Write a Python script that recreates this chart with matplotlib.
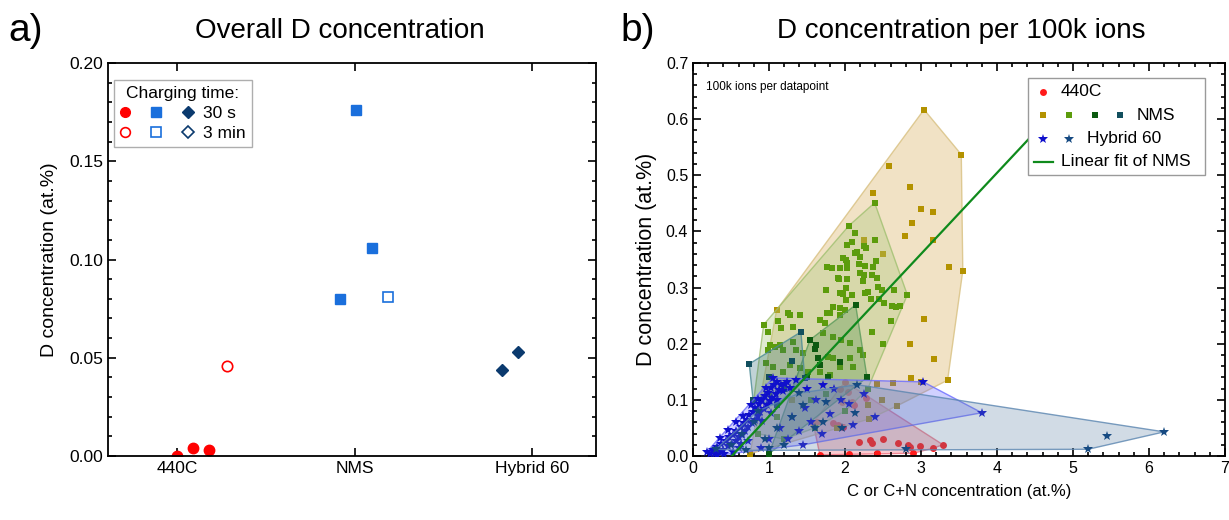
import numpy as np
import matplotlib
matplotlib.use("Agg")
import matplotlib.pyplot as plt
from matplotlib.lines import Line2D
from matplotlib.patches import Rectangle
from matplotlib.legend_handler import HandlerTuple
from matplotlib.ticker import MultipleLocator, FormatStrFormatter
from matplotlib.colors import to_rgba

plt.rcParams['font.family'] = ['Liberation Sans', 'DejaVu Sans']

# ---------------- panel a data ----------------
categories   = ['440C', 'NMS', 'Hybrid 60']
c440_30s_x   = [0.00, 0.09, 0.18]
c440_30s_y   = [0.000, 0.004, 0.003]
c440_3min_x  = [0.28]
c440_3min_y  = [0.046]
nms_30s_x    = [0.915, 1.005, 1.10]
nms_30s_y    = [0.080, 0.176, 0.106]
nms_3min_x   = [1.19]
nms_3min_y   = [0.081]
hyb_30s_x    = [1.83, 1.92]
hyb_30s_y    = [0.044, 0.053]

# ---------------- panel b data (x = C or C+N at.%, y = D at.%) ----------------
c440_pts = [(2.0, 0.132), (2.04, 0.114), (2.09, 0.096), (1.96, 0.096), (1.63, 0.06),
            (1.84, 0.058), (1.91, 0.055), (1.97, 0.052), (2.18, 0.025), (2.33, 0.028),
            (2.36, 0.023), (2.7, 0.023), (2.83, 0.02), (2.86, 0.016), (2.99, 0.018),
            (3.16, 0.014), (3.29, 0.02), (1.93, 0.12), (2.28, 0.103), (1.58, 0.059),
            (1.67, 0.002), (2.05, 0.004), (2.42, 0.005), (2.9, 0.005), (2.12, 0.09),
            (2.5, 0.03)]

nms_gold_pts = [(3.04, 0.617), (3.53, 0.537), (2.58, 0.517), (2.37, 0.469), (2.86, 0.48),
                (3.0, 0.44), (3.16, 0.435), (2.88, 0.415), (2.79, 0.392), (3.16, 0.385),
                (3.37, 0.337), (3.55, 0.33), (3.04, 0.244), (2.86, 0.2), (3.17, 0.173),
                (2.87, 0.139), (3.35, 0.135), (3.0, 0.132), (2.63, 0.13), (2.42, 0.128),
                (2.49, 0.1), (2.3, 0.091), (2.68, 0.089), (2.32, 0.066), (2.25, 0.385),
                (2.5, 0.36), (1.1, 0.26), (0.75, 0.004), (1.3, 0.1), (1.9, 0.05)]

nms_lime_pts = [(2.39, 0.451), (2.05, 0.41), (2.13, 0.398), (2.09, 0.381), (2.03, 0.376),
                (2.25, 0.374), (2.28, 0.371), (2.39, 0.385), (2.16, 0.364), (2.13, 0.362),
                (2.2, 0.355), (1.97, 0.353), (2.01, 0.349), (2.03, 0.344), (1.76, 0.337),
                (1.83, 0.335), (1.93, 0.335), (2.03, 0.335), (2.18, 0.342), (2.26, 0.339),
                (2.41, 0.348), (2.37, 0.337), (2.2, 0.326), (2.25, 0.323), (2.36, 0.323),
                (2.42, 0.317), (1.92, 0.316), (2.03, 0.316), (2.24, 0.312), (2.43, 0.301),
                (2.49, 0.296), (1.75, 0.296), (2.01, 0.3), (1.93, 0.29), (1.97, 0.289),
                (2.09, 0.287), (2.01, 0.278), (2.26, 0.29), (2.3, 0.292), (2.34, 0.28),
                (2.45, 0.28), (2.51, 0.273), (2.64, 0.296), (2.82, 0.287), (2.62, 0.267),
                (2.67, 0.266), (2.72, 0.267), (1.84, 0.266), (1.93, 0.264), (0.93, 0.234),
                (1.12, 0.241), (1.28, 0.251), (1.41, 0.251), (1.32, 0.23), (1.16, 0.228),
                (1.01, 0.198), (1.08, 0.194), (1.14, 0.198), (1.18, 0.189), (0.99, 0.189),
                (1.67, 0.242), (1.74, 0.237), (1.8, 0.255), (1.93, 0.251), (2.0, 0.26),
                (1.71, 0.219), (1.84, 0.212), (1.95, 0.207), (2.07, 0.201), (1.78, 0.176),
                (1.84, 0.175), (1.93, 0.159), (2.07, 0.175), (2.11, 0.159), (2.2, 0.189),
                (2.24, 0.18), (1.32, 0.203), (1.36, 0.189), (1.45, 0.184), (0.96, 0.166),
                (1.05, 0.159), (1.28, 0.162), (1.18, 0.15), (1.41, 0.157), (1.51, 0.15),
                (1.67, 0.15), (1.8, 0.144), (2.5, 0.2), (2.35, 0.22), (2.6, 0.24),
                (2.3, 0.12), (0.8, 0.1), (0.85, 0.04), (1.2, 0.03), (1.6, 0.05),
                (2.0, 0.08), (1.0, 0.11), (1.3, 0.12), (1.55, 0.1), (1.75, 0.11),
                (1.1, 0.07), (1.25, 0.255), (0.99, 0.221), (1.76, 0.255), (1.91, 0.317)]

nms_dkgreen_pts = [(2.14, 0.269), (1.54, 0.207), (1.64, 0.175), (1.67, 0.162), (1.6, 0.19),
                   (1.93, 0.168), (1.78, 0.141), (1.5, 0.141), (1.0, 0.004), (2.29, 0.14),
                   (1.62, 0.198)]

nms_teal_pts = [(0.74, 0.164), (1.42, 0.221), (1.47, 0.139), (0.79, 0.1), (1.0, 0.14),
                (1.2, 0.12), (1.3, 0.17), (1.1, 0.09)]

hyb_blue_pts = [(0.18, 0.007), (0.23, 0.003), (0.26, 0.011), (0.29, 0.004), (0.31, 0.016),
                (0.34, 0.007), (0.37, 0.022), (0.39, 0.011), (0.41, 0.004), (0.43, 0.027),
                (0.46, 0.017), (0.48, 0.033), (0.51, 0.021), (0.53, 0.037), (0.56, 0.026),
                (0.57, 0.045), (0.61, 0.033), (0.63, 0.052), (0.64, 0.038), (0.67, 0.059),
                (0.69, 0.045), (0.71, 0.064), (0.73, 0.051), (0.74, 0.073), (0.77, 0.058),
                (0.79, 0.079), (0.81, 0.064), (0.82, 0.086), (0.85, 0.071), (0.87, 0.093),
                (0.88, 0.078), (0.91, 0.099), (0.93, 0.084), (0.95, 0.107), (0.97, 0.091),
                (0.99, 0.113), (1.01, 0.098), (1.03, 0.121), (1.04, 0.104), (1.07, 0.126),
                (1.09, 0.111), (1.11, 0.131), (1.13, 0.118), (1.16, 0.127), (1.19, 0.116),
                (1.21, 0.129), (1.24, 0.131), (1.27, 0.122), (0.52, 0.008), (0.61, 0.014),
                (0.72, 0.026), (0.35, 0.032), (0.46, 0.047), (0.56, 0.061), (0.66, 0.072),
                (0.76, 0.091), (0.86, 0.102), (0.96, 0.121), (0.31, 0.001), (0.63, 0.021),
                (0.91, 0.062), (1.02, 0.076), (1.05, 0.139), (3.03, 0.132), (3.8, 0.077),
                (1.71, 0.127), (1.35, 0.135), (1.5, 0.12), (1.62, 0.1), (1.47, 0.085),
                (1.3, 0.07), (1.15, 0.05), (1.25, 0.03), (1.4, 0.045), (1.55, 0.06),
                (1.8, 0.075), (1.95, 0.1), (2.05, 0.092), (2.25, 0.11), (2.4, 0.07),
                (1.0, 0.03), (0.9, 0.015), (1.7, 0.04), (2.1, 0.055), (1.85, 0.12),
                (1.1, 0.1), (1.45, 0.02)]

hyb_navy_pts = [(0.3, 0.012), (0.5, 0.02), (0.65, 0.04), (0.8, 0.06), (0.95, 0.03),
                (1.1, 0.05), (1.3, 0.07), (1.45, 0.09), (1.6, 0.05), (1.71, 0.06),
                (1.75, 0.097), (1.96, 0.05), (2.13, 0.077), (2.16, 0.127), (1.0, 0.015),
                (1.2, 0.02), (2.8, 0.012), (5.2, 0.012), (5.45, 0.036), (6.2, 0.043),
                (1.4, 0.112), (0.7, 0.01), (0.85, 0.08)]

# linear fit of NMS
fit_slope     = 0.1445
fit_intercept = -0.0737
fit_x_range   = [0.51, 4.9]


def convex_hull(pts) :
    pts = sorted(set(pts))
    def cross(o, a, b) :
        return (a[0] - o[0]) * (b[1] - o[1]) - (a[1] - o[1]) * (b[0] - o[0])
    lower = []
    for p in pts :
        while len(lower) >= 2 and cross(lower[-2], lower[-1], p) <= 0 :
            lower.pop()
        lower.append(p)
    upper = []
    for p in reversed(pts) :
        while len(upper) >= 2 and cross(upper[-2], upper[-1], p) <= 0 :
            upper.pop()
        upper.append(p)
    return lower[:-1] + upper[:-1]


def style_axes(ax, labelsize) :
    for s in ax.spines.values() :
        s.set_linewidth(1.3)
    ax.tick_params(which='both', direction='in', top=True, right=True, width=1.2)
    ax.tick_params(which='major', length=6, labelsize=labelsize)
    ax.tick_params(which='minor', length=3)


fig = plt.figure(figsize=(12.29, 5.2), dpi=100)
ax_a = fig.add_axes([108/1229, 64/520, 488/1229, 393/520])
ax_b = fig.add_axes([693/1229, 64/520, 532/1229, 393/520])

# ---------------- panel a ----------------
red, blue, navy = '#ff0000', '#1a6fdc', '#0b3a6e'
ax_a.plot(c440_30s_x, c440_30s_y, 'o', color=red, ms=7.5, ls='')
ax_a.plot(c440_3min_x, c440_3min_y, 'o', mfc='white', mec=red, mew=1.2, ms=7.5, ls='')
ax_a.plot(nms_30s_x, nms_30s_y, 's', color=blue, ms=6.5, ls='')
ax_a.plot(nms_3min_x, nms_3min_y, 's', mfc='white', mec=blue, mew=1.2, ms=6.5, ls='')
ax_a.plot(hyb_30s_x, hyb_30s_y, 'D', color=navy, ms=6.5, ls='')

ax_a.set_xlim(-0.39, 2.36)
ax_a.set_ylim(0, 0.20)
ax_a.set_xticks(range(len(categories)))
ax_a.set_xticklabels(categories)
ax_a.yaxis.set_major_locator(MultipleLocator(0.05))
ax_a.yaxis.set_minor_locator(MultipleLocator(0.01))
ax_a.yaxis.set_major_formatter(FormatStrFormatter('%.2f'))
style_axes(ax_a, 12.5)
ax_a.set_ylabel('D concentration (at.%)', fontsize=14, labelpad=8)

h30 = (Line2D([], [], marker='o', ls='', color=red, ms=7),
       Line2D([], [], marker='s', ls='', color=blue, ms=6.5),
       Line2D([], [], marker='D', ls='', color=navy, ms=6.5))
h3m = (Line2D([], [], marker='o', ls='', mfc='white', mec=red, mew=1.2, ms=7),
       Line2D([], [], marker='s', ls='', mfc='white', mec=blue, mew=1.2, ms=6.5),
       Line2D([], [], marker='D', ls='', mfc='white', mec=navy, mew=1.2, ms=6.5))
leg = ax_a.legend([h30, h3m], ['30 s', '3 min'], title='Charging time:',
                  handler_map={tuple: HandlerTuple(ndivide=None, pad=1.2)},
                  loc='upper left', bbox_to_anchor=(0.012, 0.958),
                  handlelength=4.2, fontsize=12.5, title_fontsize=12.5,
                  frameon=True, fancybox=False, borderpad=0.35,
                  labelspacing=0.3, handletextpad=0.6, borderaxespad=0)
leg.get_frame().set_edgecolor('#9a9a9a')
leg.get_frame().set_linewidth(1.0)

# ---------------- panel b ----------------
groups = [
    (c440_pts,        'o', '#ff1a1a', 5.0, '#f05060', '#f07080'),
    (nms_gold_pts,    's', '#b39200', 4.6, '#e0c080', '#d8c080'),
    (nms_lime_pts,    's', '#5c9c0c', 4.6, '#a8c878', '#a0c070'),
    (nms_dkgreen_pts, 's', '#0b5a10', 4.6, '#3f8a40', '#5a9a5a'),
    (nms_teal_pts,    's', '#124f5e', 4.6, '#2f6e78', '#4a8a95'),
    (hyb_blue_pts,    '*', '#1010cc', 7.0, '#5a5aff', '#6a6aff'),
    (hyb_navy_pts,    '*', '#164a82', 7.0, '#5a7fa5', '#5a85b0'),
]
fill_alpha = [0.3, 0.45, 0.35, 0.3, 0.3, 0.28, 0.28]

for i, (pts, mk, col, ms, fcol, ecol) in enumerate(groups) :
    hv = convex_hull(pts)
    hx = [p[0] for p in hv]
    hy = [p[1] for p in hv]
    ax_b.fill(hx, hy, facecolor=to_rgba(fcol, fill_alpha[i]),
              edgecolor=to_rgba(ecol, 0.8), lw=1.0, zorder=2 * i + 1)
    arr = np.array(pts)
    ax_b.plot(arr[:, 0], arr[:, 1], mk, color=col, ms=ms, ls='',
              mew=0, zorder=2 * i + 2)

fx = np.array(fit_x_range)
ax_b.plot(fx, fit_slope * fx + fit_intercept, color='#0f8a1c', lw=1.6, zorder=20)

ax_b.set_xlim(0, 7)
ax_b.set_ylim(0, 0.7)
ax_b.xaxis.set_major_locator(MultipleLocator(1))
ax_b.xaxis.set_minor_locator(MultipleLocator(0.2))
ax_b.yaxis.set_major_locator(MultipleLocator(0.1))
ax_b.yaxis.set_minor_locator(MultipleLocator(0.02))
style_axes(ax_b, 11.5)
ax_b.set_xlabel('C or C+N concentration (at.%)', fontsize=12, labelpad=6)
ax_b.set_ylabel('D concentration (at.%)', fontsize=15.5, labelpad=6)
ax_b.text(0.024, 0.955, '100k ions per datapoint', transform=ax_b.transAxes,
          fontsize=8.5, va='top', ha='left')

# manual legend (axes fraction coordinates)
def bx(px) :
    return (px - 693) / 532
def by(py) :
    return (456 - py) / 393

tr = ax_b.transAxes
ax_b.add_patch(Rectangle((bx(1028), by(175)), bx(1205) - bx(1028), by(78) - by(175),
                         transform=tr, facecolor='white', edgecolor='#9a9a9a',
                         lw=1.0, zorder=30, clip_on=False))
kw = dict(transform=tr, ls='', mew=0, zorder=31, clip_on=False)
ax_b.plot([bx(1043)], [by(92)], 'o', color='#ff1a1a', ms=5.0, **kw)
for px, col in zip([1043, 1069, 1095, 1120], ['#b39200', '#5c9c0c', '#0b5a10', '#124f5e']) :
    ax_b.plot([bx(px)], [by(115)], 's', color=col, ms=4.6, **kw)
for px, col in zip([1043, 1069], ['#1010cc', '#164a82']) :
    ax_b.plot([bx(px)], [by(139)], '*', color=col, ms=7.0, **kw)
ax_b.plot([bx(1034), bx(1053)], [by(162), by(162)], color='#0f8a1c', lw=1.6,
          transform=tr, zorder=31, clip_on=False)
tkw = dict(transform=tr, fontsize=12.5, va='center', ha='left', zorder=32)
ax_b.text(bx(1061), by(92), '440C', **tkw)
ax_b.text(bx(1137), by(115), 'NMS', **tkw)
ax_b.text(bx(1087), by(139), 'Hybrid 60', **tkw)
ax_b.text(bx(1061), by(162), 'Linear fit of NMS', **tkw)

# panel titles
fig.text(8/1229, 1 - 31/520, 'a)', fontsize=28, va='center', ha='left')
fig.text(340/1229, 1 - 31/520, 'Overall D concentration', fontsize=20, va='center', ha='center')
fig.text(620/1229, 1 - 31/520, 'b)', fontsize=28, va='center', ha='left')
fig.text(961/1229, 1 - 31/520, 'D concentration per 100k ions', fontsize=20, va='center', ha='center')

fig.savefig('out.png', dpi=100)
